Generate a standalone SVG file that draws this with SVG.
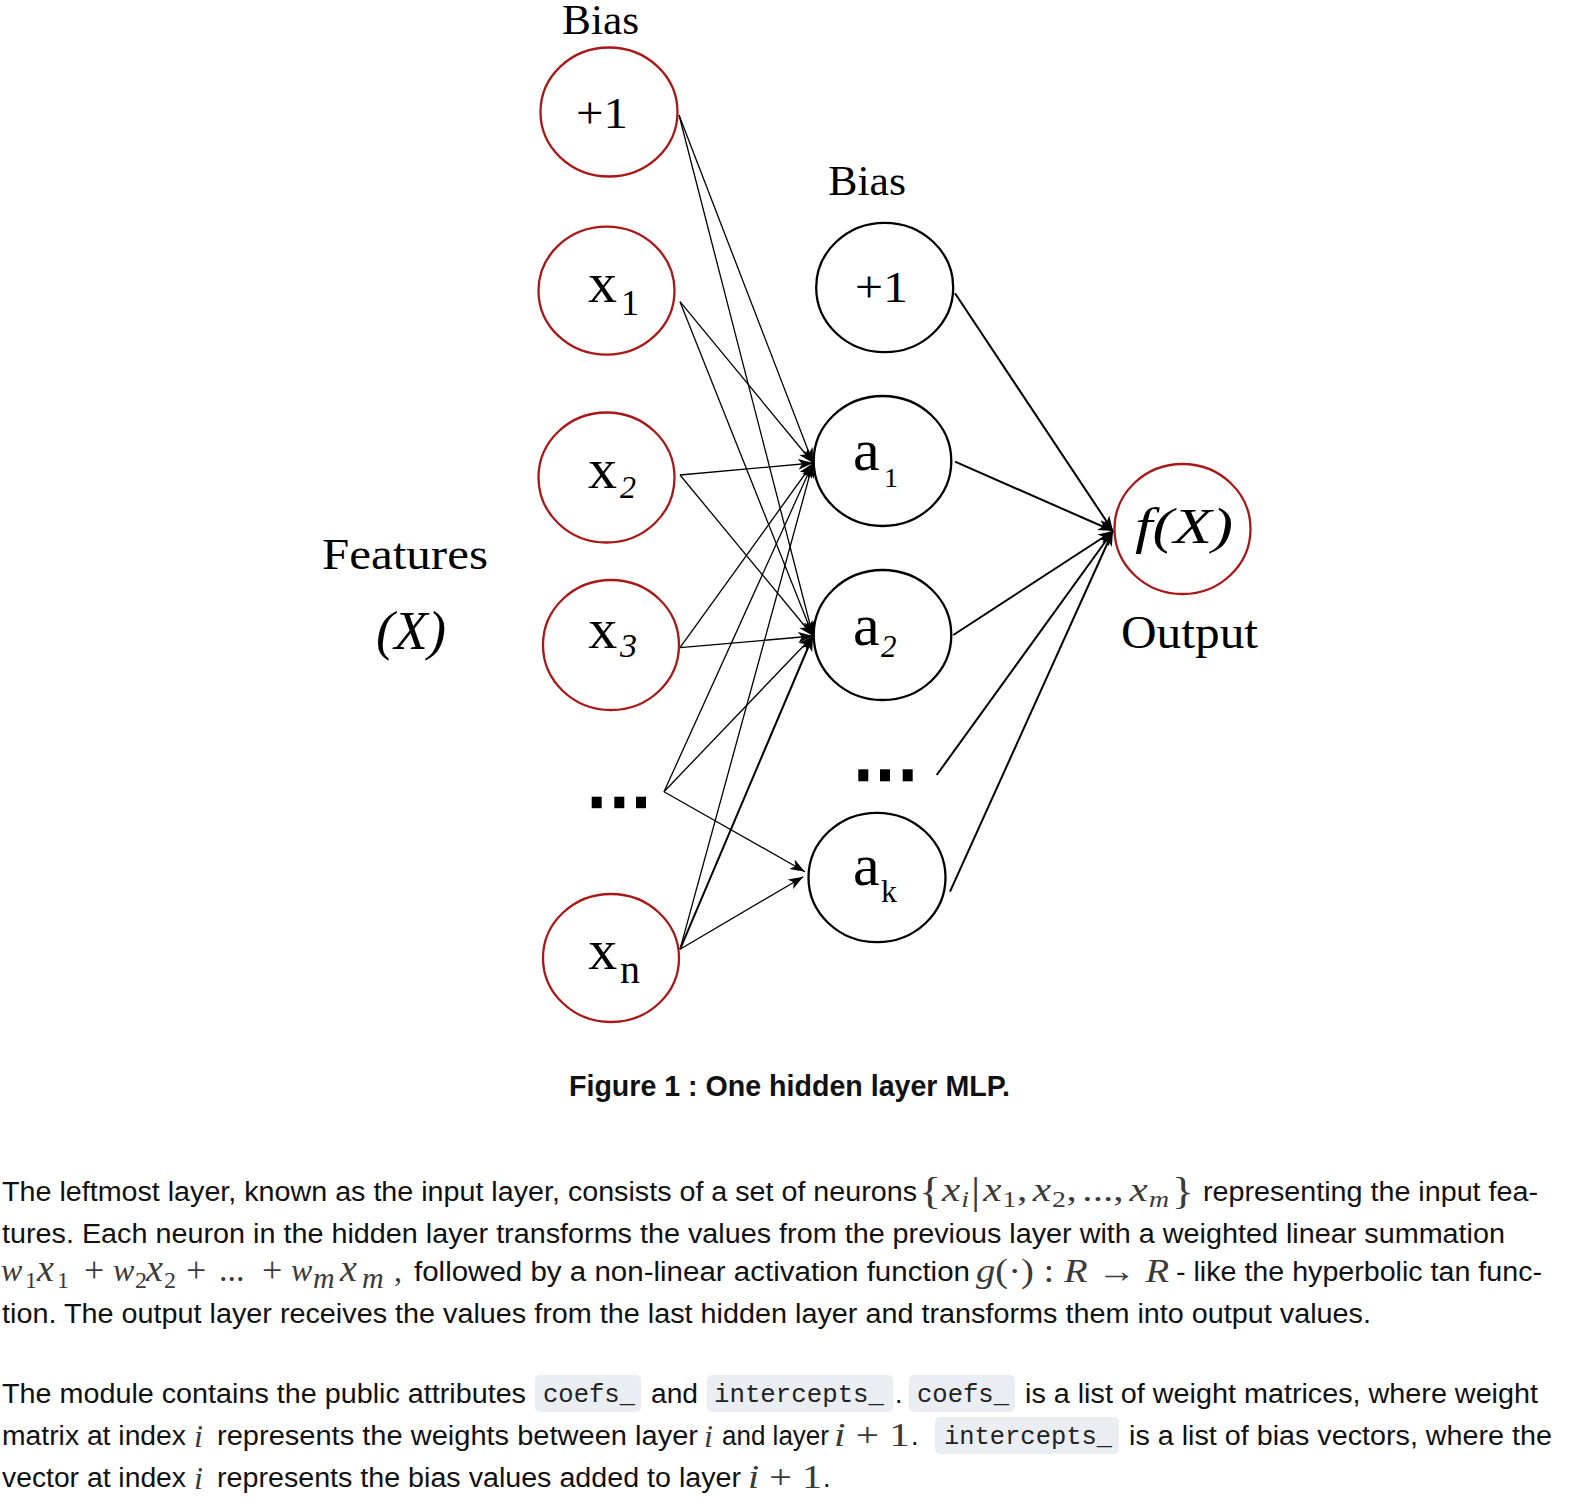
<svg xmlns="http://www.w3.org/2000/svg" width="1592" height="1507" viewBox="0 0 1592 1507">
<style>
.bg{fill:#ffffff}
.nr{fill:none;stroke:#a81818;stroke-width:2.3}
.nb{fill:none;stroke:#000;stroke-width:2.3}
.lbl{font-family:"Liberation Serif","Times New Roman",serif;fill:#000}
.it{font-style:italic}
.cn{stroke:#000;stroke-width:1.3;fill:none}
.cnb{stroke:#000;stroke-width:2;fill:none}
.dot{fill:#000}
.body{font-family:"Liberation Sans",Arial,sans-serif;font-size:27px;fill:#111}
.cap{font-family:"Liberation Sans",Arial,sans-serif;font-size:30px;font-weight:bold;fill:#111}
.math{font-family:"Liberation Serif","Times New Roman",serif;fill:#3a3a3a}
.code{font-family:"Liberation Mono","Courier New",monospace;font-size:25px;fill:#222}
.cbox{fill:#eaeef2}
</style>
<defs>
<marker id="ah" markerUnits="userSpaceOnUse" markerWidth="16" markerHeight="12" refX="15" refY="6" orient="auto">
<path d="M0,0.5 L15,6 L0,11.5 L4,6 Z" fill="#000"/>
</marker>
</defs>
<rect class="bg" x="0" y="0" width="1592" height="1507"/>

<g id="connectors">
<line class="cn" x1="679" y1="115" x2="813" y2="463" marker-end="url(#ah)"/>
<line class="cn" x1="679" y1="115" x2="813" y2="636" marker-end="url(#ah)"/>
<line class="cn" x1="680" y1="301.7" x2="813" y2="463" marker-end="url(#ah)"/>
<line class="cn" x1="680" y1="301.7" x2="813" y2="636" marker-end="url(#ah)"/>
<line class="cn" x1="680" y1="475" x2="813" y2="463" marker-end="url(#ah)"/>
<line class="cn" x1="680" y1="475" x2="813" y2="636" marker-end="url(#ah)"/>
<line class="cn" x1="680" y1="647.7" x2="813" y2="463" marker-end="url(#ah)"/>
<line class="cn" x1="680" y1="647.7" x2="813" y2="636" marker-end="url(#ah)"/>
<line class="cn" x1="664" y1="791.7" x2="813" y2="463" marker-end="url(#ah)"/>
<line class="cn" x1="664" y1="791.7" x2="813" y2="636" marker-end="url(#ah)"/>
<line class="cn" x1="664" y1="791.7" x2="805" y2="871.7" marker-end="url(#ah)"/>
<line class="cn" x1="680" y1="949.3" x2="813" y2="463" marker-end="url(#ah)"/>
<line class="cnb" x1="680" y1="949.3" x2="813" y2="636" marker-end="url(#ah)"/>
<line class="cn" x1="680" y1="949.3" x2="803.3" y2="876.7" marker-end="url(#ah)"/>
<line class="cnb" x1="955" y1="293.3" x2="1113" y2="531" marker-end="url(#ah)"/>
<line class="cnb" x1="955" y1="461.7" x2="1113" y2="531" marker-end="url(#ah)"/>
<line class="cnb" x1="953.3" y1="635" x2="1113" y2="531" marker-end="url(#ah)"/>
<line class="cnb" x1="936.7" y1="775" x2="1113" y2="531" marker-end="url(#ah)"/>
<line class="cnb" x1="950" y1="891.7" x2="1113" y2="531" marker-end="url(#ah)"/>
</g>

<g id="bias-in-label"><text class="lbl" x="562" y="34" font-size="42" textLength="77" lengthAdjust="spacingAndGlyphs">Bias</text></g>
<g id="bias-in">
<ellipse class="nr" cx="609" cy="112" rx="68.5" ry="64.5"/>
<text class="lbl" x="576" y="127.5" font-size="44" textLength="52" lengthAdjust="spacingAndGlyphs">+1</text>
</g>
<g id="x1">
<ellipse class="nr" cx="606.5" cy="290.7" rx="68" ry="64"/>
<text class="lbl" x="588" y="301.5" font-size="58">x</text>
<text class="lbl" x="621" y="315" font-size="36">1</text>
</g>
<g id="x2">
<ellipse class="nr" cx="606.5" cy="477.5" rx="68" ry="65"/>
<text class="lbl" x="588" y="488.3" font-size="58">x</text>
<text class="lbl it" x="620" y="498" font-size="32">2</text>
</g>
<g id="x3">
<ellipse class="nr" cx="611" cy="645" rx="68" ry="65"/>
<text class="lbl" x="588.3" y="648.3" font-size="58">x</text>
<text class="lbl it" x="620" y="657" font-size="34">3</text>
</g>
<g id="x-dots">
<rect class="dot" x="591.7" y="796.7" width="10" height="11.5"/>
<rect class="dot" x="614.3" y="796.7" width="10" height="11.5"/>
<rect class="dot" x="636" y="796.7" width="10" height="11.5"/>
</g>
<g id="xn">
<ellipse class="nr" cx="611" cy="958" rx="68" ry="64"/>
<text class="lbl" x="588.3" y="969.3" font-size="58">x</text>
<text class="lbl" x="620" y="982.7" font-size="40">n</text>
</g>

<g id="features-label">
<text class="lbl" x="322" y="569" font-size="44" textLength="166" lengthAdjust="spacingAndGlyphs">Features</text>
<text class="lbl it" x="376" y="649" font-size="54" textLength="70" lengthAdjust="spacingAndGlyphs">(X)</text>
</g>

<g id="bias-h-label"><text class="lbl" x="828.3" y="195" font-size="42" textLength="77.7" lengthAdjust="spacingAndGlyphs">Bias</text></g>
<g id="bias-h">
<ellipse class="nb" cx="884.7" cy="287.5" rx="68.5" ry="64.7"/>
<text class="lbl" x="855" y="301.7" font-size="44" textLength="53" lengthAdjust="spacingAndGlyphs">+1</text>
</g>
<g id="a1">
<ellipse class="nb" cx="882.5" cy="461" rx="68.8" ry="65"/>
<text class="lbl" x="853" y="470" font-size="60">a</text>
<text class="lbl" x="884" y="487.3" font-size="28">1</text>
</g>
<g id="a2">
<ellipse class="nb" cx="882.5" cy="635" rx="68.8" ry="65"/>
<text class="lbl" x="853" y="645" font-size="60">a</text>
<text class="lbl it" x="881" y="657" font-size="31">2</text>
</g>
<g id="a-dots">
<rect class="dot" x="858.3" y="769.3" width="10" height="12"/>
<rect class="dot" x="880" y="769.3" width="10" height="12"/>
<rect class="dot" x="902.7" y="769.3" width="10" height="12"/>
</g>
<g id="ak">
<ellipse class="nb" cx="877" cy="877.5" rx="68.5" ry="64.7"/>
<text class="lbl" x="853" y="885" font-size="60">a</text>
<text class="lbl" x="881" y="901.7" font-size="32">k</text>
</g>

<g id="output">
<ellipse class="nr" cx="1182.5" cy="529" rx="68" ry="65"/>
<text class="lbl it" x="1135" y="543.3" font-size="50" textLength="98" lengthAdjust="spacingAndGlyphs">f(X)</text>
</g>
<g id="output-label"><text class="lbl" x="1121" y="648.3" font-size="46" textLength="137" lengthAdjust="spacingAndGlyphs">Output</text></g>

<g id="caption"><text class="cap" x="569" y="1096" textLength="441" lengthAdjust="spacingAndGlyphs">Figure 1 : One hidden layer MLP.</text></g>

<g id="paragraph1">
<text class="body" x="2" y="1201" textLength="915" lengthAdjust="spacingAndGlyphs">The leftmost layer, known as the input layer, consists of a set of neurons</text>
<g transform="translate(919,0) scale(1.21,1)">
<text class="math" x="0" y="1204" font-size="38">{</text>
<text class="math it" x="19" y="1201" font-size="34">x</text>
<text class="math it" x="35" y="1207" font-size="23">i</text>
<text class="math" x="43" y="1204" font-size="38">|</text>
<text class="math it" x="53" y="1201" font-size="34">x</text>
<text class="math" x="69" y="1207" font-size="23">1</text>
<text class="math" x="81" y="1201" font-size="34">,</text>
<text class="math it" x="94" y="1201" font-size="34">x</text>
<text class="math" x="110" y="1207" font-size="23">2</text>
<text class="math" x="122" y="1201" font-size="34">,</text>
<text class="math" x="135" y="1201" font-size="34">...,</text>
<text class="math it" x="174" y="1201" font-size="34">x</text>
<text class="math it" x="190" y="1207" font-size="23">m</text>
<text class="math" x="209" y="1204" font-size="38">}</text>
</g>
<text class="body" x="1203" y="1201" textLength="335" lengthAdjust="spacingAndGlyphs">representing the input fea-</text>

<text class="body" x="2" y="1242.5" textLength="1503" lengthAdjust="spacingAndGlyphs">tures. Each neuron in the hidden layer transforms the values from the previous layer with a weighted linear summation</text>

<text class="math it" x="1" y="1281" font-size="32">w</text>
<text class="math" x="25" y="1288" font-size="24">1</text>
<text class="math it" x="37" y="1281" font-size="38">x</text>
<text class="math" x="57" y="1288" font-size="24">1</text>
<text class="math" x="84" y="1282" font-size="36">+</text>
<text class="math it" x="113" y="1281" font-size="32">w</text>
<text class="math" x="135" y="1288" font-size="24">2</text>
<text class="math it" x="146" y="1281" font-size="38">x</text>
<text class="math" x="164" y="1288" font-size="24">2</text>
<text class="math" x="186" y="1282" font-size="36">+</text>
<text class="math" x="219" y="1281" font-size="34">...</text>
<text class="math" x="262" y="1282" font-size="36">+</text>
<text class="math it" x="291" y="1281" font-size="32">w</text>
<text class="math it" x="313" y="1288" font-size="30">m</text>
<text class="math it" x="340" y="1281" font-size="38">x</text>
<text class="math it" x="362" y="1288" font-size="30">m</text>
<text class="math" x="394" y="1281" font-size="32">,</text>
<text class="body" x="414" y="1281" textLength="556" lengthAdjust="spacingAndGlyphs">followed by a non-linear activation function</text>
<text class="math" x="976" y="1282" font-size="33" textLength="193" lengthAdjust="spacingAndGlyphs"><tspan font-style="italic">g</tspan>(·) : <tspan font-style="italic">R</tspan> → <tspan font-style="italic">R</tspan></text>
<text class="body" x="1176" y="1281" textLength="366" lengthAdjust="spacingAndGlyphs">- like the hyperbolic tan func-</text>

<text class="body" x="2" y="1323" textLength="1369" lengthAdjust="spacingAndGlyphs">tion. The output layer receives the values from the last hidden layer and transforms them into output values.</text>
</g>

<g id="paragraph2">
<text class="body" x="2" y="1403" textLength="524" lengthAdjust="spacingAndGlyphs">The module contains the public attributes</text>
<rect class="cbox" x="535" y="1375" width="106" height="37" rx="5"/>
<text class="code" x="543" y="1402" textLength="92" lengthAdjust="spacingAndGlyphs">coefs_</text>
<text class="body" x="651" y="1403" textLength="47" lengthAdjust="spacingAndGlyphs">and</text>
<rect class="cbox" x="707" y="1375" width="186" height="37" rx="5"/>
<text class="code" x="714" y="1402" textLength="170" lengthAdjust="spacingAndGlyphs">intercepts_</text>
<text class="body" x="895" y="1403">.</text>
<rect class="cbox" x="909" y="1375" width="106" height="37" rx="5"/>
<text class="code" x="917" y="1402" textLength="92" lengthAdjust="spacingAndGlyphs">coefs_</text>
<text class="body" x="1025" y="1403" textLength="513" lengthAdjust="spacingAndGlyphs">is a list of weight matrices, where weight</text>

<text class="body" x="2" y="1445" textLength="184" lengthAdjust="spacingAndGlyphs">matrix at index</text>
<text class="math it" x="194" y="1447" font-size="32">i</text>
<text class="body" x="217" y="1445" textLength="481" lengthAdjust="spacingAndGlyphs">represents the weights between layer</text>
<text class="math it" x="704" y="1447" font-size="32">i</text>
<text class="body" x="722" y="1445" textLength="107" lengthAdjust="spacingAndGlyphs">and layer</text>
<text class="math" x="834" y="1446" font-size="34" textLength="76" lengthAdjust="spacingAndGlyphs"><tspan font-style="italic">i</tspan> + 1</text>
<text class="body" x="911" y="1445">.</text>
<rect class="cbox" x="935" y="1417" width="184" height="37" rx="5"/>
<text class="code" x="944" y="1444" textLength="168" lengthAdjust="spacingAndGlyphs">intercepts_</text>
<text class="body" x="1129" y="1445" textLength="423" lengthAdjust="spacingAndGlyphs">is a list of bias vectors, where the</text>

<text class="body" x="2" y="1487" textLength="184" lengthAdjust="spacingAndGlyphs">vector at index</text>
<text class="math it" x="194" y="1489" font-size="32">i</text>
<text class="body" x="217" y="1487" textLength="524" lengthAdjust="spacingAndGlyphs">represents the bias values added to layer</text>
<text class="math" x="748" y="1488" font-size="34" textLength="74" lengthAdjust="spacingAndGlyphs"><tspan font-style="italic">i</tspan> + 1</text>
<text class="body" x="823" y="1487">.</text>
</g>
</svg>
